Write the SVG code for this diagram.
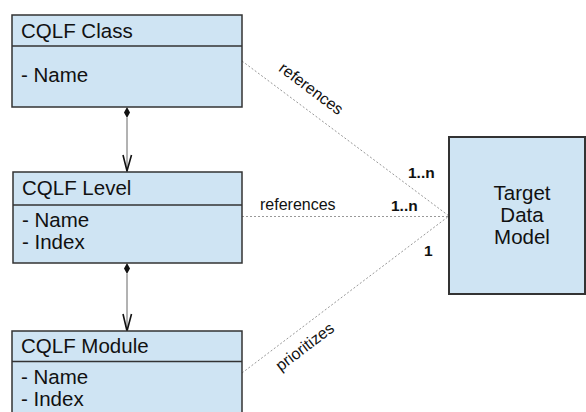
<svg xmlns="http://www.w3.org/2000/svg" width="586" height="412" viewBox="0 0 586 412">
<style>
.box{fill:#cfe4f3;stroke:#333;stroke-width:1.5}
.tbox{fill:#cfe4f3;stroke:#333;stroke-width:2}
.div{stroke:#333;stroke-width:1.5}
.t{font-family:"Liberation Sans",Arial,sans-serif;font-size:20.5px;fill:#111}
.lbl{font-family:"Liberation Sans",Arial,sans-serif;font-size:16px;fill:#111}
.mult{font-family:"Liberation Sans",Arial,sans-serif;font-size:15.5px;font-weight:bold;fill:#111}
.dot{stroke:#999;stroke-width:1;stroke-dasharray:2 2;fill:none}
.comp{stroke:#666;stroke-width:1;fill:none}
.head{stroke:#111;stroke-width:1.6;fill:none}
.dia{fill:#111}
</style>
<rect width="586" height="412" fill="#fff"/>
<g id="connectors">
<line class="dot" x1="242" y1="61" x2="449" y2="216"/>
<line class="dot" x1="242" y1="216.5" x2="449" y2="216.5"/>
<line class="dot" x1="242" y1="373" x2="449" y2="216"/>
<text class="lbl" transform="translate(308,93) rotate(36.8)" text-anchor="middle">references</text>
<text class="lbl" x="260" y="210">references</text>
<text class="lbl" transform="translate(308,351) rotate(-37.2)" text-anchor="middle">prioritizes</text>
<text class="mult" x="408" y="178">1..n</text>
<text class="mult" x="391" y="211">1..n</text>
<text class="mult" x="424" y="256">1</text>
<line class="comp" x1="127" y1="118" x2="127" y2="171"/>
<path class="dia" d="M127 107 L130 112.5 L127 118 L124 112.5 Z"/>
<path class="head" d="M123 155 L127 171 L131.5 155"/>
<line class="comp" x1="127" y1="274" x2="127" y2="331"/>
<path class="dia" d="M127 263 L130 268.5 L127 274 L124 268.5 Z"/>
<path class="head" d="M123 314 L127 331 L131.5 314"/>
</g>
<g id="cqlf-class">
<rect class="box" x="12" y="15" width="230" height="92"/>
<line class="div" x1="12" y1="46" x2="242" y2="46"/>
<text class="t" x="21" y="38">CQLF Class</text>
<text class="t" x="21" y="82">- Name</text>
</g>
<g id="cqlf-level">
<rect class="box" x="13" y="172" width="229" height="91"/>
<line class="div" x1="13" y1="205" x2="242" y2="205"/>
<text class="t" x="22" y="195">CQLF Level</text>
<text class="t" x="22" y="227">- Name</text>
<text class="t" x="22" y="249">- Index</text>
</g>
<g id="cqlf-module">
<rect class="box" x="12" y="331" width="230" height="95"/>
<line class="div" x1="12" y1="361.5" x2="242" y2="361.5"/>
<text class="t" x="21" y="353">CQLF Module</text>
<text class="t" x="21" y="384">- Name</text>
<text class="t" x="21" y="406">- Index</text>
</g>
<g id="target-data-model">
<rect class="tbox" x="449" y="137" width="136" height="157"/>
<text class="t" x="522" y="200" text-anchor="middle">Target</text>
<text class="t" x="522" y="222" text-anchor="middle">Data</text>
<text class="t" x="522" y="244" text-anchor="middle">Model</text>
</g>
</svg>
